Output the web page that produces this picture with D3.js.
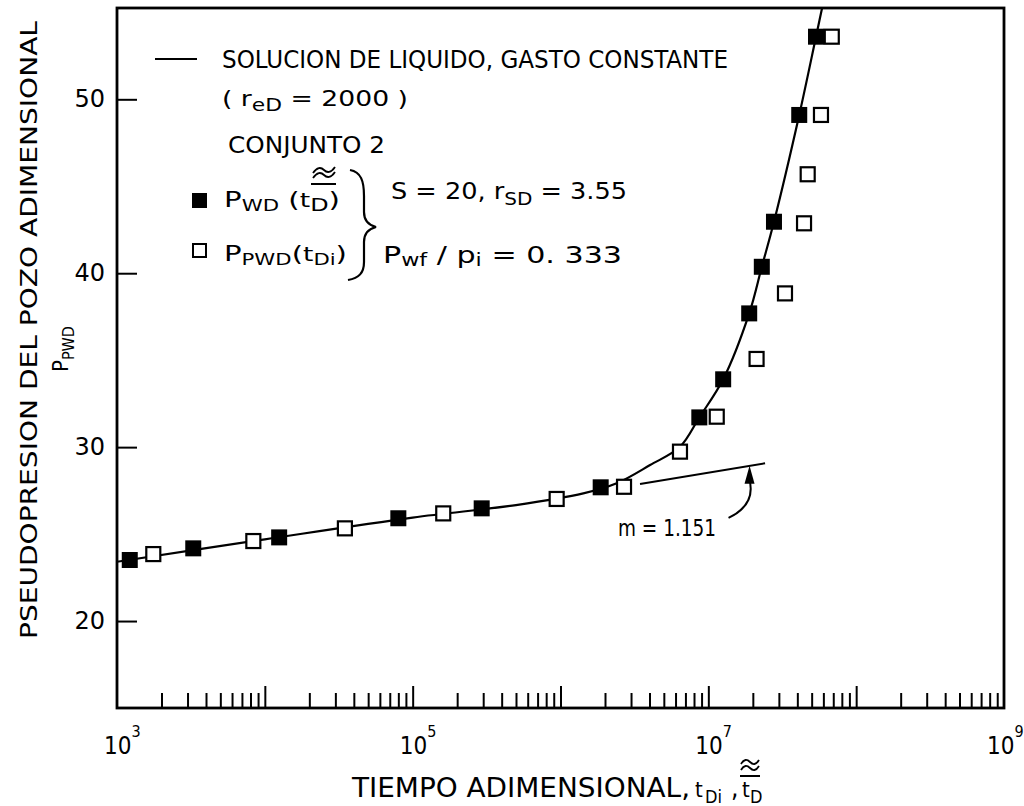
<!DOCTYPE html>
<html>
<head>
<meta charset="utf-8">
<script src="https://cdn.jsdelivr.net/npm/d3@7"></script>
<style>
  html, body { margin: 0; padding: 0; background: #fff; }
  svg { display: block; }
  .cond { font-family: "DejaVu Sans Condensed", "Liberation Sans Narrow", "DejaVu Sans", sans-serif; }
  .geo  { font-family: "DejaVu Sans", "Lato", sans-serif; }
</style>
</head>
<body>
<svg id="chart" width="1024" height="806"></svg>
<script>
// Filled markers: p_wD plotted against the adjusted time t̃D
const filledTime = [1.22e3, 3.28e3, 1.25e4, 8.0e4, 2.93e5, 1.87e6, 8.69e6, 1.26e7, 1.89e7, 2.30e7, 2.78e7, 4.12e7, 5.35e7];
const filledPwd  = [23.51, 24.18, 24.81, 25.91, 26.48, 27.69, 31.71, 33.90, 37.69, 40.37, 42.96, 49.10, 53.60];

// Open markers: p_pwD plotted against t_Di
const openTime = [1.76e3, 8.36e3, 3.48e4, 1.61e5, 9.42e5, 2.69e6, 6.43e6, 1.14e7, 2.12e7, 3.30e7, 4.44e7, 4.70e7, 5.78e7, 6.84e7];
const openPpwd = [23.85, 24.60, 25.33, 26.19, 27.02, 27.72, 29.74, 31.75, 35.07, 38.84, 42.87, 45.69, 49.10, 53.60];

// Liquid solution, constant rate (reD = 2000)
const liquidTime = [1e3, 1e4, 1e5, 5.0e5, 1.426e6, 2.399e6, 4.036e6, 6.427e6, 8.69e6, 1.26e7, 1.89e7, 2.30e7, 2.78e7, 4.12e7, 5.35e7, 6.21e7];
const liquidPwd  = [23.41, 24.70, 25.95, 26.67, 27.34, 27.92, 28.97, 30.02, 31.71, 33.90, 37.69, 40.37, 42.96, 49.10, 53.60, 56.20];

// Semilog straight line, slope m = 1.151
const semilogTime = [3.45e6, 2.42e7];
const semilogP    = [27.88, 29.07];
const slopeLabel  = "m = 1.151";
const arrowTipTime = 1.9e7;

// Axes
const xDomain = [1e3, 1e9];
const yDomain = [15, 55.25];
const yTickValues = [20, 30, 40, 50];
const xLabelExponents = [3, 5, 7, 9];
const minorDecades = [3, 4, 5, 6, 7, 8];
const minorMultipliers = [2, 3, 4, 5, 6, 7, 8, 9];

const W = 1024;
const svg = d3.select("#chart");
const L = 117, R = 1004, T = 8, B = 708;

const x = d3.scaleLog().domain(xDomain).range([L, R]);
const y = d3.scaleLinear().domain(yDomain).range([B, T]);

svg.append("defs").append("clipPath").attr("id", "plotClip")
  .append("rect").attr("x", L).attr("y", T).attr("width", R - L).attr("height", B - T);

// bottom axis: minor and decade ticks pointing inward
const minorTicks = [];
minorDecades.forEach(e => minorMultipliers.forEach(k => minorTicks.push(k * Math.pow(10, e))));
const majorTicks = minorDecades.slice(1).map(e => Math.pow(10, e));

function styleAxis(g) {
  g.select(".domain").remove();
  g.selectAll(".tick line").attr("stroke", "#000").attr("stroke-width", 2);
}
svg.append("g").attr("transform", `translate(0,${B})`)
  .call(d3.axisBottom(x).tickValues(minorTicks).tickSize(-15).tickFormat(""))
  .call(styleAxis);
svg.append("g").attr("transform", `translate(0,${B})`)
  .call(d3.axisBottom(x).tickValues(majorTicks).tickSize(-22).tickFormat(""))
  .call(styleAxis);

// left axis ticks pointing inward, with labels
const yAxisG = svg.append("g").attr("transform", `translate(${L},0)`)
  .call(d3.axisLeft(y).tickValues(yTickValues).tickSize(-20).tickPadding(12).tickFormat(d3.format("d")))
  .call(styleAxis);
yAxisG.selectAll(".tick text")
  .attr("class", "geo").attr("font-size", 24).attr("fill", "#000").attr("font-family", null);

// frame
svg.append("rect").attr("x", L).attr("y", T).attr("width", R - L).attr("height", B - T)
  .attr("fill", "none").attr("stroke", "#000").attr("stroke-width", 2.8);

// x labels: powers of ten (one text each, exponent raised), kept inside the page
const xl = svg.append("g").attr("class", "cond").attr("fill", "#000");
xLabelExponents.forEach(e => {
  const cx = x(Math.pow(10, e));
  const shift = Math.min(0, (W - 3) - (cx + 21));
  const lab = xl.append("text").attr("x", cx - 13 + shift).attr("y", 754).attr("font-size", 24);
  lab.append("tspan").text("10");
  lab.append("tspan").attr("dy", -17).attr("font-size", 16).text(String(e));
});

// x title
const xtg = svg.append("g").attr("class", "cond").attr("fill", "#000").attr("font-size", 26);
xtg.append("text").attr("x", 352).attr("y", 797)
  .attr("textLength", 338).attr("lengthAdjust", "spacingAndGlyphs").text("TIEMPO  ADIMENSIONAL,");
xtg.append("text").attr("x", 695).attr("y", 797).attr("font-size", 22).text("t");
xtg.append("text").attr("x", 705).attr("y", 803).attr("font-size", 18).text("Di");
xtg.append("text").attr("x", 731).attr("y", 797).text(",");
xtg.append("text").attr("x", 742).attr("y", 797).attr("font-size", 22).text("t");
xtg.append("text").attr("x", 750).attr("y", 803).attr("font-size", 18).text("D");
// double tilde with bar over t̃D
xtg.append("path")
  .attr("d", "M740,776 L760,776 M741,770 C744,765 747,765 750,768 C753,771 756,771 759,766 M741,764 C744,759 747,759 750,762 C753,765 756,765 759,760")
  .attr("fill", "none").attr("stroke", "#000").attr("stroke-width", 1.8);

// y title
svg.append("text").attr("class", "cond")
  .attr("transform", "translate(37,330) rotate(-90)")
  .attr("text-anchor", "middle").attr("font-size", 23).attr("fill", "#000")
  .attr("textLength", 618).attr("lengthAdjust", "spacingAndGlyphs")
  .text("PSEUDOPRESION  DEL  POZO  ADIMENSIONAL");
const yt2 = svg.append("text").attr("class", "cond")
  .attr("transform", "translate(68,372) rotate(-90)")
  .attr("font-size", 22).attr("fill", "#000");
yt2.append("tspan").text("P");
yt2.append("tspan").attr("dy", 6).attr("font-size", 16).text("PWD");

const plot = svg.append("g").attr("clip-path", "url(#plotClip)");

// liquid solution curve
const liquid = liquidTime.map((t, i) => ({ t, p: liquidPwd[i] }));
plot.append("path").datum(liquid)
  .attr("fill", "none").attr("stroke", "#000").attr("stroke-width", 2.2)
  .attr("d", d3.line().x(d => x(d.t)).y(d => y(d.p)).curve(d3.curveCatmullRom.alpha(0.5)));

// semilog straight line
const semi = semilogTime.map((t, i) => ({ t, p: semilogP[i] }));
plot.append("path").datum(semi)
  .attr("fill", "none").attr("stroke", "#000").attr("stroke-width", 2)
  .attr("d", d3.line().x(d => x(d.t)).y(d => y(d.p)));

// open markers
plot.selectAll("rect.open").data(openTime.map((t, i) => ({ t, p: openPpwd[i] })))
  .join("rect").attr("class", "open")
  .attr("x", d => x(d.t) - 7).attr("y", d => y(d.p) - 7)
  .attr("width", 14).attr("height", 14)
  .attr("fill", "#fff").attr("stroke", "#000").attr("stroke-width", 2.2);

// filled markers
plot.selectAll("rect.filled").data(filledTime.map((t, i) => ({ t, p: filledPwd[i] })))
  .join("rect").attr("class", "filled")
  .attr("x", d => x(d.t) - 8).attr("y", d => y(d.p) - 8)
  .attr("width", 16).attr("height", 16).attr("fill", "#000");

// slope annotation with curved arrow
const tipP = semilogP[0] + (semilogP[1] - semilogP[0]) *
  (Math.log10(arrowTipTime) - Math.log10(semilogTime[0])) /
  (Math.log10(semilogTime[1]) - Math.log10(semilogTime[0]));
const tx = x(arrowTipTime), ty = y(tipP);
svg.append("path")
  .attr("d", `M${tx - 21},${ty + 52} C${tx - 2},${ty + 43} ${tx + 4},${ty + 30} ${tx},${ty + 14}`)
  .attr("fill", "none").attr("stroke", "#000").attr("stroke-width", 2);
svg.append("path")
  .attr("d", `M${tx},${ty} L${tx - 5},${ty + 18} L${tx + 5},${ty + 18} Z`)
  .attr("fill", "#000");
svg.append("text").attr("class", "cond").attr("x", 618).attr("y", 536)
  .attr("font-size", 23).attr("fill", "#000")
  .attr("textLength", 98).attr("lengthAdjust", "spacingAndGlyphs").text(slopeLabel);

// legend
const lg = svg.append("g").attr("fill", "#000");
lg.append("line").attr("x1", 155).attr("x2", 197).attr("y1", 59).attr("y2", 59)
  .attr("stroke", "#000").attr("stroke-width", 2);
lg.append("text").attr("class", "cond").attr("x", 222).attr("y", 68).attr("font-size", 24)
  .attr("textLength", 506).attr("lengthAdjust", "spacingAndGlyphs")
  .text("SOLUCION DE LIQUIDO, GASTO CONSTANTE");

const reD = lg.append("text").attr("class", "geo").attr("x", 222).attr("y", 106).attr("font-size", 22)
  .attr("textLength", 186).attr("lengthAdjust", "spacingAndGlyphs");
reD.append("tspan").text("( r");
reD.append("tspan").attr("dy", 5).attr("font-size", 18).text("eD");
reD.append("tspan").attr("dy", -5).text(" = 2000 )");

lg.append("text").attr("class", "cond").attr("x", 228).attr("y", 153).attr("font-size", 23)
  .attr("textLength", 157).attr("lengthAdjust", "spacingAndGlyphs").text("CONJUNTO 2");

lg.append("rect").attr("x", 192).attr("y", 193).attr("width", 15).attr("height", 15).attr("fill", "#000");
lg.append("rect").attr("x", 193).attr("y", 244).attr("width", 13).attr("height", 13)
  .attr("fill", "#fff").attr("stroke", "#000").attr("stroke-width", 2);

const r1 = lg.append("text").attr("class", "geo").attr("x", 224).attr("y", 207).attr("font-size", 22)
  .attr("textLength", 116).attr("lengthAdjust", "spacingAndGlyphs");
r1.append("tspan").text("P");
r1.append("tspan").attr("dy", 4).attr("font-size", 16).text("WD");
r1.append("tspan").attr("dy", -4).text("  (");
r1.append("tspan").attr("font-size", 20).text("t");
r1.append("tspan").attr("dy", 4).attr("font-size", 18).text("D");
r1.append("tspan").attr("dy", -4).text(")");
// overline with double tilde above t̃D
lg.append("path")
  .attr("d", "M311,184 L336,184 M313,178 C317,172 321,172 324,175 C327,178 331,178 335,172 M313,173 C317,167 321,167 324,170 C327,173 331,173 335,167")
  .attr("fill", "none").attr("stroke", "#000").attr("stroke-width", 1.8);

const r2 = lg.append("text").attr("class", "geo").attr("x", 224).attr("y", 261).attr("font-size", 22)
  .attr("textLength", 123).attr("lengthAdjust", "spacingAndGlyphs");
r2.append("tspan").text("P");
r2.append("tspan").attr("dy", 4).attr("font-size", 16).text("PWD");
r2.append("tspan").attr("dy", -4).text("(");
r2.append("tspan").attr("font-size", 20).text("t");
r2.append("tspan").attr("dy", 4).attr("font-size", 16).text("Di");
r2.append("tspan").attr("dy", -4).text(")");

// brace joining both marker sets
lg.append("path")
  .attr("d", "M350,170 C361,172 364,181 364,196 L364,212 C364,220 368,225 376,227 C368,229 364,234 364,242 L364,262 C364,273 359,278 348,280")
  .attr("fill", "none").attr("stroke", "#000").attr("stroke-width", 2.2);

const s1 = lg.append("text").attr("class", "geo").attr("x", 391).attr("y", 199).attr("font-size", 23)
  .attr("textLength", 236).attr("lengthAdjust", "spacingAndGlyphs");
s1.append("tspan").text("S = 20, r");
s1.append("tspan").attr("dy", 6).attr("font-size", 18).text("SD");
s1.append("tspan").attr("dy", -6).text(" = 3.55");

const s2 = lg.append("text").attr("class", "geo").attr("x", 383).attr("y", 263).attr("font-size", 23)
  .attr("textLength", 239).attr("lengthAdjust", "spacingAndGlyphs");
s2.append("tspan").text("P");
s2.append("tspan").attr("dy", 3).attr("font-size", 17).text("wf");
s2.append("tspan").attr("dy", -3).text(" / p");
s2.append("tspan").attr("dy", 3).attr("font-size", 17).text("i");
s2.append("tspan").attr("dy", -3).text(" = 0. 333");
</script>
</body>
</html>
